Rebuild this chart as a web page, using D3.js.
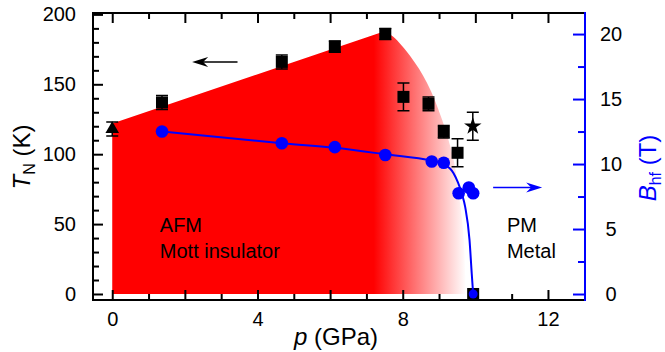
<!DOCTYPE html>
<html>
<head>
<meta charset="utf-8">
<script src="https://cdn.jsdelivr.net/npm/d3@7"></script>
<style>
  body { margin: 0; background: #fff; }
  svg text { font-family: "Liberation Sans", Arial, sans-serif; }
</style>
</head>
<body>
<div id="chart"></div>
<script>
// T_N data (black squares with error bars)
const sqP   = [1.37, 4.67, 6.13, 7.52, 8.02, 8.71, 9.13, 9.51, 9.94];
const sqT   = [137, 166, 177, 186, 141, 136, 116, 101, 0];
const sqErr = [5, 5, 4, 4, 10, 5, 4.5, 10, 0];
// triangle and star points
const triP = [0],    triT = [118],  triErr = [5];
const starP = [9.93], starT = [120], starErr = [10];
// B_hf data (blue circles)
const bP = [1.37, 4.67, 6.13, 7.52, 8.8, 9.13, 9.54, 9.82, 9.94, 9.94];
const bB = [12.5, 11.6, 11.3, 10.7, 10.2, 10.1, 7.75, 8.2, 7.75, 0];
// guide curve through B_hf points
const fitP = [1.37, 4.67, 6.13, 7.52, 8.8, 9.13, 9.4, 9.63, 9.72, 9.84, 9.9, 9.94];
const fitB = [12.5, 11.6, 11.25, 10.75, 10.25, 10.0, 9.3, 7.7, 6.7, 4.15, 1.6, 0];
// AFM region boundary
const edgeP = [0, 7.5, 7.74, 8.21, 8.67, 9.08, 9.40, 9.59, 9.68, 9.72, 9.74];
const edgeT = [122, 188, 184, 170, 151, 125, 96, 63, 39, 15, 0];

const xLabels = [0, 4, 8, 12];
const yLabels = [0, 50, 100, 150, 200];
const bLabels = [0, 5, 10, 15, 20];

const W = 665, H = 352;
const L = 93, R = 585, T = 13, B = 300;
const blue = "#0000ff";

const x = d3.scaleLinear().domain([-0.53, 13.02]).range([L, R]);
const y = d3.scaleLinear().domain([-4.3, 201]).range([B, T]);
const yB = d3.scaleLinear().domain([-0.46, 21.62]).range([B, T]);

const svg = d3.select("#chart").append("svg")
  .attr("width", W).attr("height", H);

// gradient for AFM region
const defs = svg.append("defs");
const grad = defs.append("linearGradient").attr("id", "afm")
  .attr("gradientUnits", "userSpaceOnUse")
  .attr("x1", x(7.2)).attr("x2", x(9.75)).attr("y1", 0).attr("y2", 0);
grad.append("stop").attr("offset", 0).attr("stop-color", "#ff0000");
grad.append("stop").attr("offset", 1).attr("stop-color", "#ffffff");

// AFM area: straight rising edge, curved falling edge
const rightPts = edgeP.map((p, i) => [x(p), y(edgeT[i])]).slice(1);
const rightPath = d3.line().curve(d3.curveCatmullRom)(rightPts);
const areaPath = "M" + x(edgeP[0]) + "," + y(0) + "L" + x(edgeP[0]) + "," + y(edgeT[0]) +
  "L" + rightPath.slice(1) + "Z";
svg.append("path").attr("d", areaPath).attr("fill", "url(#afm)");

// axes
const g = svg.append("g");
function styleAxis(sel, color) {
  sel.select(".domain").remove();
  sel.selectAll(".tick line").attr("stroke", color).attr("stroke-width", 2);
  sel.selectAll(".tick text").attr("font-size", 20).attr("fill", "#000");
}
// bottom
g.append("g").attr("transform", `translate(0,${B})`)
  .call(d3.axisBottom(x).tickValues(d3.range(1, 13, 2)).tickSize(-6).tickFormat(""))
  .call(s => styleAxis(s, "#000"));
g.append("g").attr("transform", `translate(0,${B})`)
  .call(d3.axisBottom(x).tickValues(d3.range(0, 13, 2)).tickSize(-10).tickPadding(12)
    .tickFormat(d => xLabels.includes(d) ? d : ""))
  .call(s => styleAxis(s, "#000"));
// top
g.append("g").attr("transform", `translate(0,${T})`)
  .call(d3.axisTop(x).tickValues(d3.range(1, 13, 2)).tickSize(-6).tickFormat(""))
  .call(s => styleAxis(s, "#000"));
g.append("g").attr("transform", `translate(0,${T})`)
  .call(d3.axisTop(x).tickValues(d3.range(0, 13, 2)).tickSize(-10).tickFormat(""))
  .call(s => styleAxis(s, "#000"));
// left
g.append("g").attr("transform", `translate(${L},0)`)
  .call(d3.axisLeft(y).tickValues(d3.range(0, 201, 10).filter(v => v % 50)).tickSize(-6).tickFormat(""))
  .call(s => styleAxis(s, "#000"));
g.append("g").attr("transform", `translate(${L},0)`)
  .call(d3.axisLeft(y).tickValues(yLabels).tickSize(-10).tickPadding(17))
  .call(s => styleAxis(s, "#000"));
// right (blue)
g.append("g").attr("transform", `translate(${R},0)`)
  .call(d3.axisRight(yB).tickValues([2.5, 7.5, 12.5, 17.5]).tickSize(-7).tickFormat(""))
  .call(s => styleAxis(s, blue));
g.append("g").attr("transform", `translate(${R},0)`)
  .call(d3.axisRight(yB).tickValues(bLabels).tickSize(-12))
  .call(s => styleAxis(s, blue))
  .call(s => s.selectAll(".tick text").attr("x", 26).attr("text-anchor", "middle"));

// frame
svg.append("path").attr("d", `M${R},${T}H${L}V${B}H${R}`)
  .attr("fill", "none").attr("stroke", "#000").attr("stroke-width", 2);
svg.append("line").attr("x1", R).attr("x2", R).attr("y1", T - 1).attr("y2", B + 1)
  .attr("stroke", blue).attr("stroke-width", 2);

// error bars
function errBars(ps, vs, es) {
  ps.forEach((p, i) => {
    if (!es[i]) return;
    const cx = x(p), y1 = y(vs[i] - es[i]), y2 = y(vs[i] + es[i]);
    svg.append("path")
      .attr("d", `M${cx},${y1}V${y2}M${cx - 6},${y1}H${cx + 6}M${cx - 6},${y2}H${cx + 6}`)
      .attr("stroke", "#000").attr("stroke-width", 1.5).attr("fill", "none");
  });
}
errBars(sqP, sqT, sqErr);
errBars(triP, triT, triErr);
errBars(starP, starT, starErr);

svg.append("g").selectAll("rect").data(sqP).join("rect")
  .attr("x", d => x(d) - 6).attr("y", (d, i) => y(sqT[i]) - 6)
  .attr("width", 12).attr("height", 12).attr("fill", "#000");
svg.append("g").selectAll("path").data(triP).join("path")
  .attr("transform", (d, i) => `translate(${x(d)},${y(triT[i])})`)
  .attr("d", d3.symbol(d3.symbolTriangle, 80)).attr("fill", "#000");
svg.append("g").selectAll("path").data(starP).join("path")
  .attr("transform", (d, i) => `translate(${x(d)},${y(starT[i])})`)
  .attr("d", d3.symbol(d3.symbolStar, 95)).attr("fill", "#000");

// B_hf guide curve
svg.append("path")
  .attr("d", d3.line().curve(d3.curveMonotoneX)(fitP.map((p, i) => [x(p), yB(fitB[i])])))
  .attr("fill", "none").attr("stroke", blue).attr("stroke-width", 2);
svg.append("g").selectAll("circle").data(bP).join("circle")
  .attr("cx", d => x(d)).attr("cy", (d, i) => yB(bB[i]))
  .attr("r", (d, i) => bB[i] === 0 ? 4.5 : 6.3).attr("fill", blue);

// arrows
function arrow(p1, p2, v, sc, color) {
  const x1 = x(p1), x2 = x(p2), yy = sc(v);
  const dir = Math.sign(x2 - x1);
  svg.append("line").attr("x1", x1).attr("x2", x2 - dir * 6).attr("y1", yy).attr("y2", yy)
    .attr("stroke", color).attr("stroke-width", 1.5);
  svg.append("path")
    .attr("d", `M${x2},${yy}L${x2 - dir * 16},${yy - 5}L${x2 - dir * 11},${yy}L${x2 - dir * 16},${yy + 5}Z`)
    .attr("fill", color);
}
arrow(3.45, 2.2, 166, y, "#000");
arrow(10.49, 11.84, 8.2, yB, blue);

// region labels
function label(p, yy, txt) {
  svg.append("text").attr("x", x(p)).attr("y", yy).attr("font-size", 20).text(txt);
}
label(1.31, 232, "AFM");
label(1.31, 258, "Mott insulator");
label(10.87, 232, "PM");
label(10.87, 258, "Metal");

// axis titles
const xt = svg.append("text").attr("x", (L + R) / 2 - 3).attr("y", 345)
  .attr("text-anchor", "middle").attr("font-size", 24);
xt.append("tspan").attr("font-style", "italic").text("p");
xt.append("tspan").text(" (GPa)");

const yt = svg.append("text").attr("transform", "translate(30,157) rotate(-90)")
  .attr("text-anchor", "middle").attr("font-size", 24);
yt.append("tspan").attr("font-style", "italic").text("T");
yt.append("tspan").attr("font-size", 16).attr("dy", 5).text("N");
yt.append("tspan").attr("dy", -5).text(" (K)");

const bt = svg.append("text").attr("transform", "translate(656,168) rotate(-90)")
  .attr("text-anchor", "middle").attr("font-size", 24).attr("fill", blue);
bt.append("tspan").attr("font-style", "italic").text("B");
bt.append("tspan").attr("font-size", 16).attr("dy", 5).text("hf");
bt.append("tspan").attr("dy", -5).text(" (T)");
</script>
</body>
</html>
